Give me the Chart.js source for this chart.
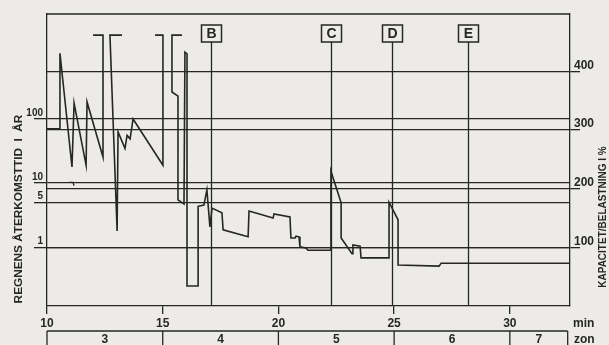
<!DOCTYPE html>
<html>
<head>
<meta charset="utf-8">
<script src="https://cdn.jsdelivr.net/npm/chart.js@4.4.0/dist/chart.umd.min.js"></script>
<style>
    html, body { margin: 0; padding: 0; background: #ecebe8; }
</style>
</head>
<body>
<canvas id="myChart" width="609" height="345"></canvas>
<script>
// tid i minuter / kapacitet-belastning i procent, null = avbrott i linjen
const minutes = [
    10.00, 10.56, 10.56, 11.08, 11.17, 11.69, 11.73, 12.42, 12.42, 11.99,
    12.50,
    13.24, 12.72, 13.03, 13.07, 13.37, 13.46, 13.59, 13.72, 15.01, 15.01, 14.67,
    15.20,
    15.83, 15.40, 15.40, 15.66, 15.66, 15.92, 15.96, 16.05, 16.05, 16.53, 16.53,
    16.78, 16.91, 17.04, 17.13, 17.56, 17.61, 18.69, 18.73, 19.77, 19.81, 20.50,
    20.54, 20.72, 20.76, 20.89, 20.93, 21.19, 21.28, 22.23, 22.27, 22.71, 22.71,
    23.18, 23.22, 23.53, 23.57, 24.78, 24.78, 25.17, 25.17, 26.94, 27.03, 32.60
];
const loadPct = [
    302, 302, 431, 237, 346, 240, 348, 254, 462, 462,
    null,
    462, 462, 128, 297, 269, 291, 285, 319, 240, 462, 462,
    null,
    462, 462, 365, 358, 181, 174, 433, 430, 34, 34, 170,
    172, 198, 135, 167, 159, 130, 118, 162, 150, 157, 152,
    116, 116, 119, 118, 101, 99, 95, 95, 230, 176, 116,
    89, 104, 102, 82, 82, 177, 147, 70, 68, 73, 73
];

// litet märke vid 10-linjen
const markMinutes = [10.95, 11.12, 11.17];
const markPct = [211, 211, 205];

const sectionLabels = ['B', 'C', 'D', 'E'];
const sectionMinutes = [17.09, 22.27, 24.91, 28.19];

const zoneLabels = ['3', '4', '5', '6', '7'];
const zoneBounds = [10, 15, 20, 25, 30, 32.5];

const minuteTicks = [10, 15, 20, 25, 30];
const yearTicks = [1, 5, 10, 100];
const pctTicks = [100, 200, 300, 400];

const ink = '#262626';
const font = '"Liberation Sans", Arial, sans-serif';

function toPoints(xs, ys) {
    return xs.map(function (v, i) { return { x: v, y: ys[i] }; });
}

function line(ctx, x1, y1, x2, y2) {
    ctx.beginPath();
    ctx.moveTo(x1, y1);
    ctx.lineTo(x2, y2);
    ctx.stroke();
}

const decorations = {
    id: 'decorations',
    beforeDraw(chart) {
        const ctx = chart.ctx;
        ctx.save();
        ctx.fillStyle = '#ecebe8';
        ctx.fillRect(0, 0, chart.width, chart.height);
        ctx.restore();
    },
    afterDraw(chart) {
        const ctx = chart.ctx;
        const a = chart.chartArea;
        const x = chart.scales.x;
        ctx.save();
        ctx.strokeStyle = ink;
        ctx.fillStyle = ink;
        ctx.lineWidth = 1.3;

        // övre ram
        line(ctx, a.left, a.top, a.right, a.top);

        // sektioner B-E
        ctx.font = 'bold 14px ' + font;
        ctx.textAlign = 'center';
        ctx.textBaseline = 'middle';
        sectionMinutes.forEach(function (m, i) {
            const px = Math.round(x.getPixelForValue(m)) + 0.5;
            line(ctx, px, a.top + 28, px, a.bottom);
            ctx.lineWidth = 1.5;
            ctx.strokeRect(px - 10, a.top + 11, 20, 17);
            ctx.lineWidth = 1.3;
            ctx.fillText(sectionLabels[i], px, a.top + 20);
        });

        // zonrad
        const zy = a.bottom + 25;
        const z0 = x.getPixelForValue(zoneBounds[0]);
        const z1 = x.getPixelForValue(zoneBounds[zoneBounds.length - 1]);
        line(ctx, z0, zy, z1, zy);
        zoneBounds.forEach(function (b) {
            const px = x.getPixelForValue(b);
            line(ctx, px, zy, px, chart.height);
        });
        ctx.font = 'bold 12px ' + font;
        zoneLabels.forEach(function (t, i) {
            const c = (x.getPixelForValue(zoneBounds[i]) + x.getPixelForValue(zoneBounds[i + 1])) / 2;
            ctx.fillText(t, c, zy + 9);
        });
        ctx.textAlign = 'left';
        ctx.fillText('zon', a.right + 4, zy + 9);
        ctx.fillText('min', a.right + 3, a.bottom + 18);

        // axeltitlar
        ctx.textAlign = 'center';
        ctx.save();
        ctx.translate(19, 209);
        ctx.rotate(-Math.PI / 2);
        ctx.font = 'bold 11.8px ' + font;
        ctx.fillText('REGNENS ÅTERKOMSTTID  I  ÅR', 0, 0);
        ctx.restore();

        ctx.save();
        ctx.translate(603, 217);
        ctx.rotate(-Math.PI / 2);
        ctx.font = 'bold 10px ' + font;
        ctx.fillText('KAPACITET/BELASTNING I %', 0, 0);
        ctx.restore();

        ctx.restore();
    }
};

const ctx = document.getElementById('myChart');

new Chart(ctx, {
    type: 'line',
    data: {
        datasets: [{
            label: 'Kapacitet/belastning',
            data: toPoints(minutes, loadPct),
            yAxisID: 'y1',
            borderColor: ink,
            borderWidth: 1.6,
            pointRadius: 0,
            tension: 0,
            spanGaps: false
        }, {
            label: 'märke',
            data: toPoints(markMinutes, markPct),
            yAxisID: 'y1',
            borderColor: ink,
            borderWidth: 1.3,
            pointRadius: 0,
            tension: 0
        }]
    },
    options: {
        responsive: false,
        animation: false,
        devicePixelRatio: 1,
        layout: { padding: { top: 14, left: 0, right: 0, bottom: 0 } },
        plugins: {
            legend: { display: false },
            tooltip: { enabled: false }
        },
        scales: {
            x: {
                type: 'linear',
                min: 10,
                max: 32.6,
                afterBuildTicks: function (scale) {
                    scale.ticks = minuteTicks.map(function (v) { return { value: v }; });
                },
                afterFit: function (scale) { scale.height = 39; },
                grid: { drawOnChartArea: false, drawTicks: true, tickLength: 8, color: ink, lineWidth: 1.3 },
                border: { display: true, color: ink, width: 1.3 },
                ticks: {
                    color: ink,
                    font: { family: font, size: 12, weight: 'bold' },
                    padding: 2,
                    maxRotation: 0,
                    autoSkip: false
                }
            },
            y: {
                type: 'logarithmic',
                position: 'left',
                min: 0.1224,
                max: 4287,
                afterBuildTicks: function (scale) {
                    scale.ticks = yearTicks.map(function (v) { return { value: v }; });
                },
                afterFit: function (scale) { scale.width = 47; },
                grid: { drawOnChartArea: true, drawTicks: true, tickLength: 13, color: ink, lineWidth: 1.3 },
                border: { display: true, color: ink, width: 1.3 },
                ticks: {
                    color: ink,
                    font: { family: font, size: 10, weight: 'bold' },
                    padding: -9,
                    labelOffset: -6,
                    autoSkip: false,
                    callback: function (v) { return String(v); }
                }
            },
            y1: {
                type: 'linear',
                position: 'right',
                min: 0,
                max: 498,
                afterBuildTicks: function (scale) {
                    scale.ticks = pctTicks.map(function (v) { return { value: v }; });
                },
                afterFit: function (scale) { scale.width = 39; },
                grid: { drawOnChartArea: true, drawTicks: true, tickLength: 10, color: ink, lineWidth: 1.3 },
                border: { display: true, color: ink, width: 1.3 },
                ticks: {
                    color: ink,
                    font: { family: font, size: 12, weight: 'bold' },
                    padding: -6,
                    labelOffset: -6,
                    autoSkip: false,
                    callback: function (v) { return String(v); }
                }
            }
        }
    },
    plugins: [decorations]
});
</script>
</body>
</html>
